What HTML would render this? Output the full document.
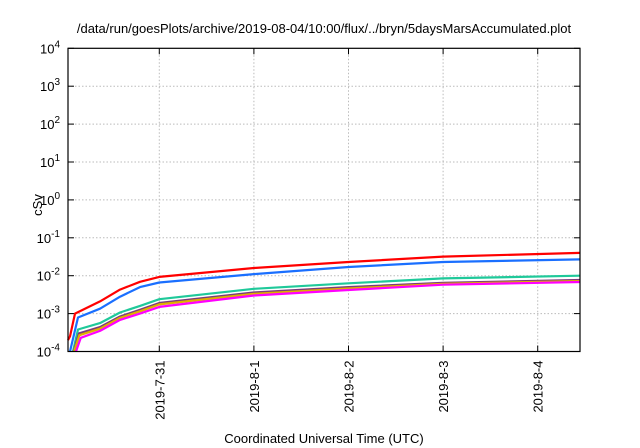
<!DOCTYPE html>
<html><head><meta charset="utf-8"><style>
body{margin:0;background:#fff;}
svg{display:block;font-family:"Liberation Sans",sans-serif;}
</style></head><body>
<svg id="chart" width="640" height="448" viewBox="0 0 640 448">
<text x="324" y="33" font-size="13" text-anchor="middle" fill="#000">/data/run/goesPlots/archive/2019-08-04/10:00/flux/../bryn/5daysMarsAccumulated.plot</text>
<g id="grid"></g><g id="axes"></g><g id="series"></g>
<rect x="68" y="48.3" width="512" height="303.2" fill="none" stroke="#000" stroke-width="1.2"/>
<text transform="translate(42,205) rotate(-90)" font-size="13" text-anchor="middle">cSv</text>
<text x="324" y="443" font-size="13" text-anchor="middle">Coordinated Universal Time (UTC)</text>
</svg>
<script>
// x in days relative to 2019-07-31 00:00
const xTickLabels = ["2019-7-31","2019-8-1","2019-8-2","2019-8-3","2019-8-4"];
const xTickValues = [0,1,2,3,4];
const yTickExps = [-4,-3,-2,-1,0,1,2,3,4];
const seriesColors = ["#ff0000","#1a6fff","#1fc99a","#7a3b7a","#e0b000","#ff00ff"];
const seriesNames = ["red-series","blue-series","green-series","purple-series","orange-series","magenta-series"];
const redX = [-0.965,-0.944,-0.891,-0.627,-0.415,-0.204,0,1,2,3,4.447];
const redY = [2.0e-4,2.5e-4,1.0e-3,2.1e-3,4.3e-3,6.9e-3,9.3e-3,1.6e-2,2.3e-2,3.2e-2,4.0e-2];
const blueX = [-0.944,-0.859,-0.627,-0.415,-0.204,0,1,2,3,4.447];
const blueY = [1.0e-4,7.9e-4,1.35e-3,2.8e-3,5.0e-3,6.6e-3,1.1e-2,1.7e-2,2.3e-2,2.7e-2];
const greenX = [-0.912,-0.859,-0.627,-0.415,-0.204,0,1,2,3,4.447];
const greenY = [1.0e-4,3.8e-4,5.6e-4,1.07e-3,1.6e-3,2.4e-3,4.5e-3,6.3e-3,8.5e-3,1.0e-2];
const purpleX = [-0.905,-0.85,-0.627,-0.415,-0.204,0,1,2,3,4.447];
const purpleY = [1.0e-4,3.0e-4,4.4e-4,8.4e-4,1.26e-3,1.9e-3,3.6e-3,5.0e-3,6.5e-3,7.7e-3];
const orangeX = [-0.9,-0.845,-0.627,-0.415,-0.204,0,1,2,3,4.447];
const orangeY = [1.0e-4,2.7e-4,4.0e-4,7.7e-4,1.15e-3,1.75e-3,3.3e-3,4.6e-3,6.1e-3,7.2e-3];
const magentaX = [-0.88,-0.83,-0.627,-0.415,-0.204,0,1,2,3,4.447];
const magentaY = [1.0e-4,2.3e-4,3.5e-4,6.8e-4,1.0e-3,1.5e-3,3.0e-3,4.2e-3,5.8e-3,6.8e-3];
const allX=[redX,blueX,greenX,purpleX,orangeX,magentaX];
const allY=[redY,blueY,greenY,purpleY,orangeY,magentaY];

const L=68,R=580,T=48.3,B=351.5,xmin=-0.965,xmax=4.447;
const sx=v=>L+(v-xmin)/(xmax-xmin)*(R-L);
const sy=v=>B-(Math.log10(v)+4)/8*(B-T);
const NS="http://www.w3.org/2000/svg";
function mk(tag,parent,attrs){const e=document.createElementNS(NS,tag);for(const k in attrs)e.setAttribute(k,attrs[k]);parent.appendChild(e);return e;}
const grid=document.getElementById('grid'),axes=document.getElementById('axes'),ser=document.getElementById('series');
yTickExps.forEach(p=>{
  const y=sy(Math.pow(10,p));
  if(p>-4&&p<4){const g=mk('line',grid,{x1:L,x2:R,y1:y,y2:y,stroke:'#bbb','stroke-dasharray':'1.5,2','stroke-width':1});
  
  }
  const t1=mk('line',axes,{x1:L,x2:L+6,y1:y,y2:y,stroke:'#000'});
  
  
  const t2=mk('line',axes,{x1:R-6,x2:R,y1:y,y2:y,stroke:'#000'});
  
  
  const tx=mk('text',axes,{x:L-8,y:y+5,'font-size':13,'text-anchor':'end'});
  
  
  tx.textContent='10';
  const sp=mk('tspan',tx,{dy:-6,'font-size':10});sp.textContent=String(p);
});
xTickValues.forEach((v,i)=>{
  const x=sx(v);
  const g=mk('line',grid,{x1:x,x2:x,y1:T,y2:B,stroke:'#bbb','stroke-dasharray':'1.5,2','stroke-width':1});
  
  
  const t1=mk('line',axes,{x1:x,x2:x,y1:B-6,y2:B,stroke:'#000'});
  
  
  const t2=mk('line',axes,{x1:x,x2:x,y1:T,y2:T+6,stroke:'#000'});
  
  
  const tx=mk('text',axes,{transform:`translate(${x+5},${B+9}) rotate(-90)`,'font-size':13,'text-anchor':'end'});
  
  
  tx.textContent=xTickLabels[i];
});
allX.forEach((xs,i)=>{
  const pts=xs.map((v,j)=>sx(v).toFixed(1)+','+sy(allY[i][j]).toFixed(1)).join(' ');
  const pl=mk('polyline',ser,{points:pts,fill:'none',stroke:seriesColors[i],'stroke-width':2.2,'stroke-linejoin':'round'});
  
  
});
</script>
</body></html>
